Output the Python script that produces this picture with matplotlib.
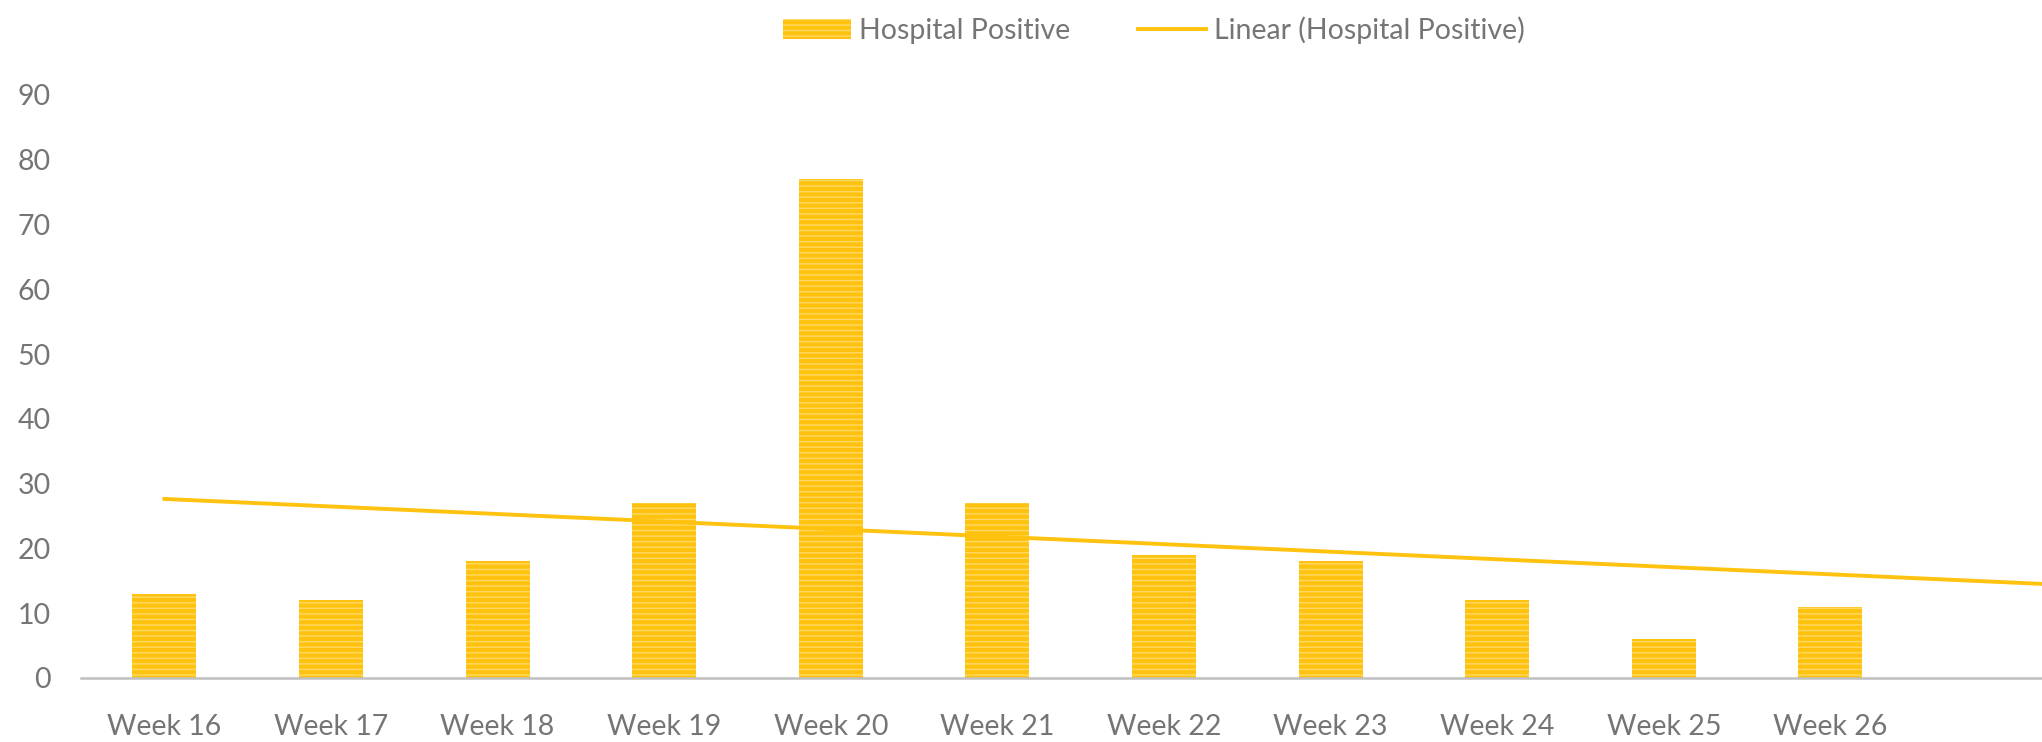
import matplotlib
matplotlib.use("Agg")
import matplotlib.pyplot as plt
import numpy as np

weeks = ["Week 16", "Week 17", "Week 18", "Week 19", "Week 20", "Week 21",
         "Week 22", "Week 23", "Week 24", "Week 25", "Week 26"]
positive = [13, 12, 18, 27, 77, 27, 19, 18, 12, 6, 11]

gold = "#FFC20E"
stripe = "#FFD966"
grey_text = "#757575"

plt.rcParams['font.family'] = ['Lato', 'DejaVu Sans']
plt.rcParams['hatch.linewidth'] = 1.0

fig = plt.figure(figsize=(20.42, 7.42), dpi=100)
ax = fig.add_axes([0.0397, 0.0863, 0.9603, 0.7857])

x = np.arange(len(weeks))
bars = ax.bar(x, positive, width=0.385, color=gold, edgecolor=stripe,
              linewidth=0, hatch='---', label="Hospital Positive")

# linear trendline, forecast forward one period like excel
k, b = np.polyfit(x, positive, 1)
xt = np.array([0, len(weeks) + 0.5])
trend, = ax.plot(xt, k * xt + b, color=gold, lw=2.8, label="Linear (Hospital Positive)")

ax.set_xlim(-0.5, 11.27)
ax.set_ylim(0, 90)
ax.set_yticks(range(0, 91, 10))
ax.set_xticks(x)
ax.set_xticklabels(weeks)

for s in ['top', 'right', 'left']:
    ax.spines[s].set_visible(False)
ax.spines['bottom'].set_color("#bfbfbf")
ax.spines['bottom'].set_linewidth(1.8)
ax.tick_params(axis='both', length=0, labelsize=20.5, labelcolor=grey_text)
ax.tick_params(axis='x', pad=26)
ax.tick_params(axis='y', pad=22)

leg = fig.legend([bars, trend], ["Hospital Positive", "Linear (Hospital Positive)"],
                 loc='upper center', bbox_to_anchor=(0.565, 1.012), ncol=2,
                 frameon=False, fontsize=20.5, handlelength=2.4, columnspacing=2.4,
                 handletextpad=0.25)
for t in leg.get_texts():
    t.set_color(grey_text)

fig.savefig("out.png", dpi=100, facecolor="white")
